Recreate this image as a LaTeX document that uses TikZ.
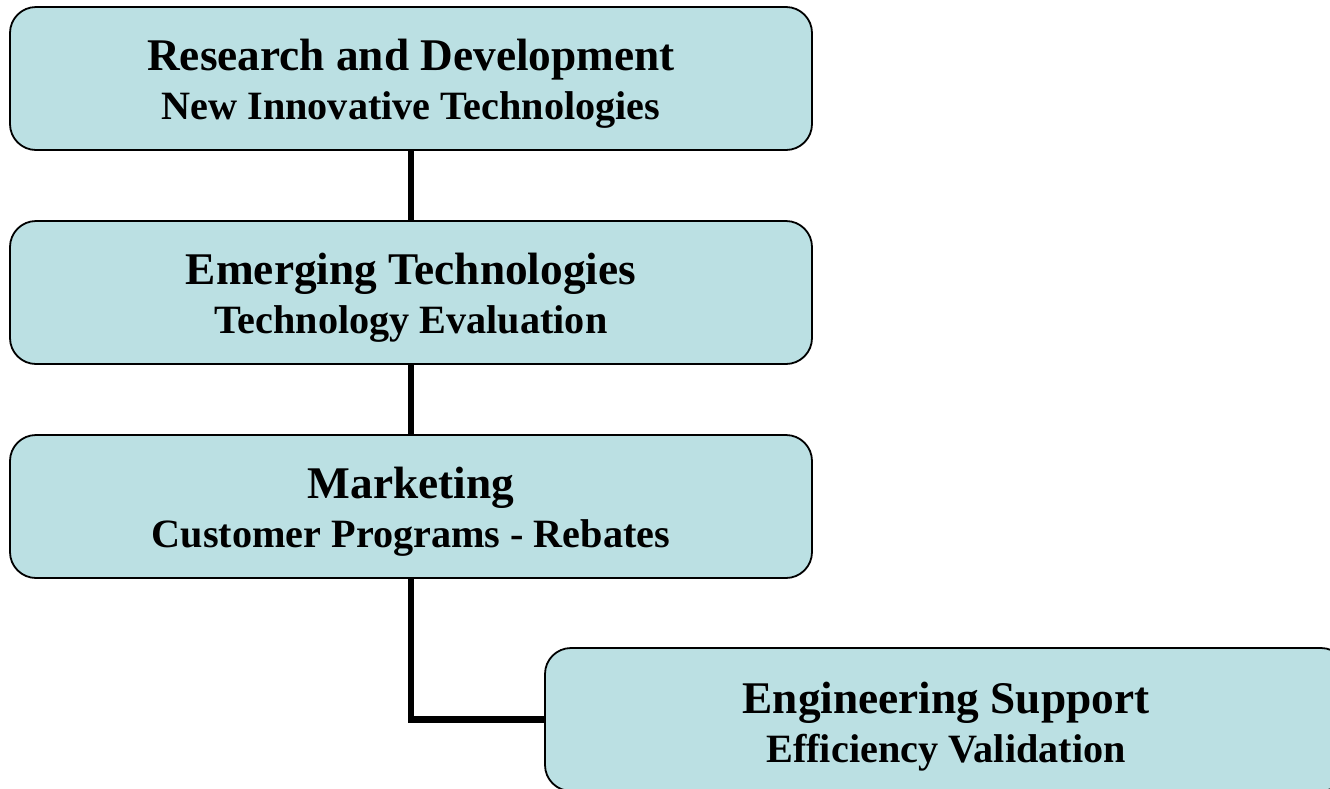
\documentclass[tikz,border=0pt]{standalone}
\usepackage{fontspec}
\setmainfont{Liberation Serif}
\tikzset{
  x=1pt, y=-1pt,
  orgbox/.style={draw=black, line width=1.8pt, fill=boxfill, rounded corners=26pt,
    minimum width=802pt, minimum height=143pt, inner sep=0pt, outer sep=0pt, anchor=north west},
  ttl/.style={anchor=base, inner sep=0pt, font=\fontsize{45.3}{48}\selectfont\bfseries},
  sub/.style={anchor=base, inner sep=0pt, font=\fontsize{40.2}{42}\selectfont\bfseries},
  link/.style={line width=6.5pt, draw=black}
}
\definecolor{boxfill}{HTML}{BBE0E3}
\begin{document}
\begin{tikzpicture}
\useasboundingbox (0,0) rectangle (1330,788);
\clip (0,0) rectangle (1330,788);
\node[orgbox] (b1) at (10,7) {};
\node[orgbox] (b2) at (10,221) {};
\node[orgbox] (b3) at (10,435) {};
\node[orgbox] (b4) at (545,648) {};
\draw[link] (b1.south) -- (b2.north);
\draw[link] (b2.south) -- (b3.north);
\draw[link] (b3.south) |- (b4.west);
\node[ttl] (t1) at ([yshift=8.5pt]b1.center) {Research and Development};
\node[sub] (s1) at ([yshift=-40.5pt]b1.center) {New Innovative Technologies};
\node[ttl] (t2) at ([yshift=8.5pt]b2.center) {Emerging Technologies};
\node[sub] (s2) at ([yshift=-40.5pt]b2.center) {Technology Evaluation};
\node[ttl] (t3) at ([yshift=8.5pt]b3.center) {Marketing};
\node[sub] (s3) at ([yshift=-40.5pt]b3.center) {Customer Programs - Rebates};
\node[ttl] (t4) at ([yshift=6pt]b4.center) {Engineering Support};
\node[sub] (s4) at ([yshift=-43pt]b4.center) {Efficiency Validation};
\end{tikzpicture}
\end{document}
